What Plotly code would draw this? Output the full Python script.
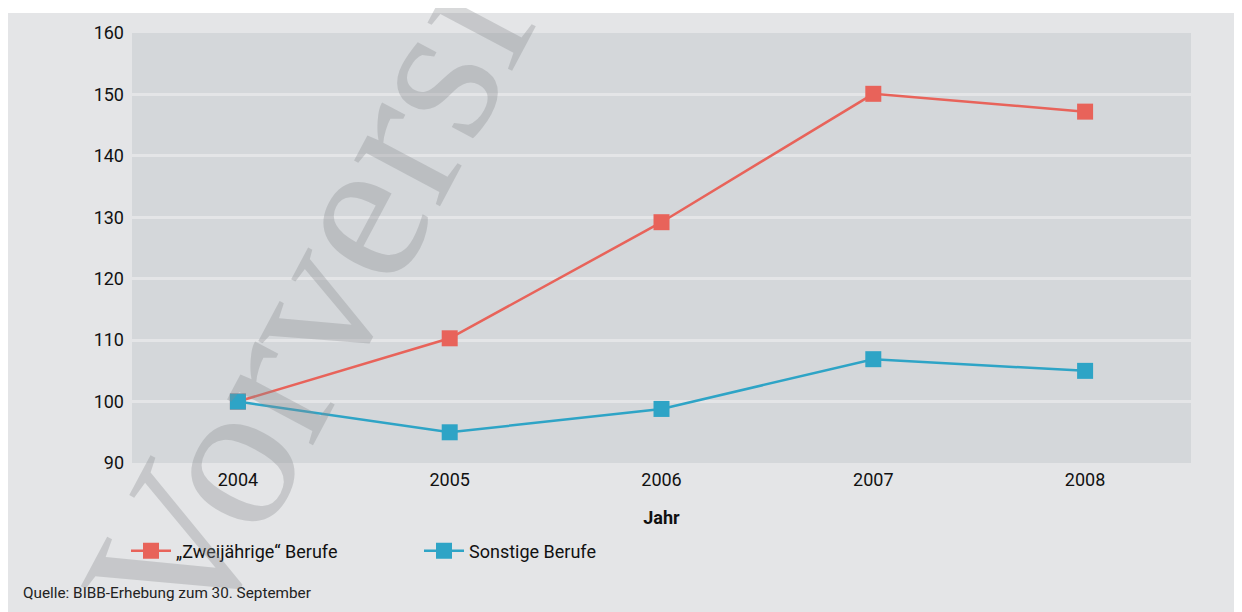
import plotly.graph_objects as go

years = ["2004", "2005", "2006", "2007", "2008"]
zweijaehrige = [100.0, 110.3, 129.2, 150.1, 147.2]
sonstige = [100.0, 95.0, 98.8, 106.9, 105.0]
y_ticks = [90, 100, 110, 120, 130, 140, 150, 160]

RED = "#e8635a"
BLUE = "#2ea4c6"
PAPER = "#e4e5e7"
PLOT = "#d4d7da"
FONT = "Roboto, Open Sans, sans-serif"

fig = go.Figure()
fig.add_trace(go.Scatter(
    x=years, y=zweijaehrige, mode="lines+markers", name="„Zweijährige“ Berufe",
    line=dict(color=RED, width=2.5),
    marker=dict(symbol="square", size=16, color=RED),
))
fig.add_trace(go.Scatter(
    x=years, y=sonstige, mode="lines+markers", name="Sonstige Berufe",
    line=dict(color=BLUE, width=2.5),
    marker=dict(symbol="square", size=16, color=BLUE),
))

OFF = 8  # page body margin
W, H = 1242, 612
L, T = 132 - OFF, 33 - OFF
R = W - (1191 - OFF)
B = H - (463 - OFF)
pw, ph = W - L - R, H - T - B

def px_x(x):
    return (x - OFF - L) / pw

def px_y(y):
    return (H - B - (y - OFF)) / ph

fig.update_layout(
    width=W, height=H,
    margin=dict(l=L, r=R, t=T, b=B),
    paper_bgcolor=PAPER,
    plot_bgcolor=PLOT,
    font=dict(family=FONT, size=18, color="#111111"),
    showlegend=True,
    legend=dict(
        orientation="h", x=px_x(126), y=px_y(551), xanchor="left", yanchor="middle",
        bgcolor="rgba(0,0,0,0)", font=dict(size=18, family=FONT),
        entrywidth=238, entrywidthmode="pixels", itemwidth=40,
    ),
    xaxis=dict(
        type="category", range=[-0.5, 4.5], showgrid=False, zeroline=False,
        ticks="", showline=False, tickfont=dict(size=18), ticklabelstandoff=4,
        title=dict(text="<b>Jahr</b>", font=dict(size=18), standoff=22),
        fixedrange=True,
    ),
    yaxis=dict(
        range=[90, 160], tickvals=y_ticks, showgrid=True, gridcolor=PAPER, gridwidth=2.5,
        zeroline=False, ticks="", showline=False, tickfont=dict(size=18),
        ticklabelstandoff=7, fixedrange=True,
    ),
    shapes=[
        dict(type="rect", xref="paper", yref="paper",
             x0=px_x(0), x1=px_x(W + 20), y0=px_y(13), y1=px_y(0),
             fillcolor="white", line=dict(width=0), layer="below"),
    ],
    annotations=[
        dict(text="2004 = 100", x="2004", y=100, xref="x", yref="y",
             showarrow=False, yshift=30, xanchor="center", yanchor="middle",
             font=dict(size=18, family=FONT, color="#111111")),
        dict(text="Quelle: BIBB-Erhebung zum 30. September", x=px_x(21), y=px_y(593),
             xref="paper", yref="paper", showarrow=False, xanchor="left", yanchor="middle",
             font=dict(size=15.3, family=FONT, color="#222222")),
        dict(text="Vorversion", x=px_x(356), y=px_y(211), xref="paper", yref="paper",
             showarrow=False, xanchor="center", yanchor="middle", textangle=-62,
             font=dict(size=212, family="Liberation Serif, DejaVu Serif, serif",
                       color="rgba(138,140,142,0.33)")),
    ],
)

fig.write_html("out.html")
